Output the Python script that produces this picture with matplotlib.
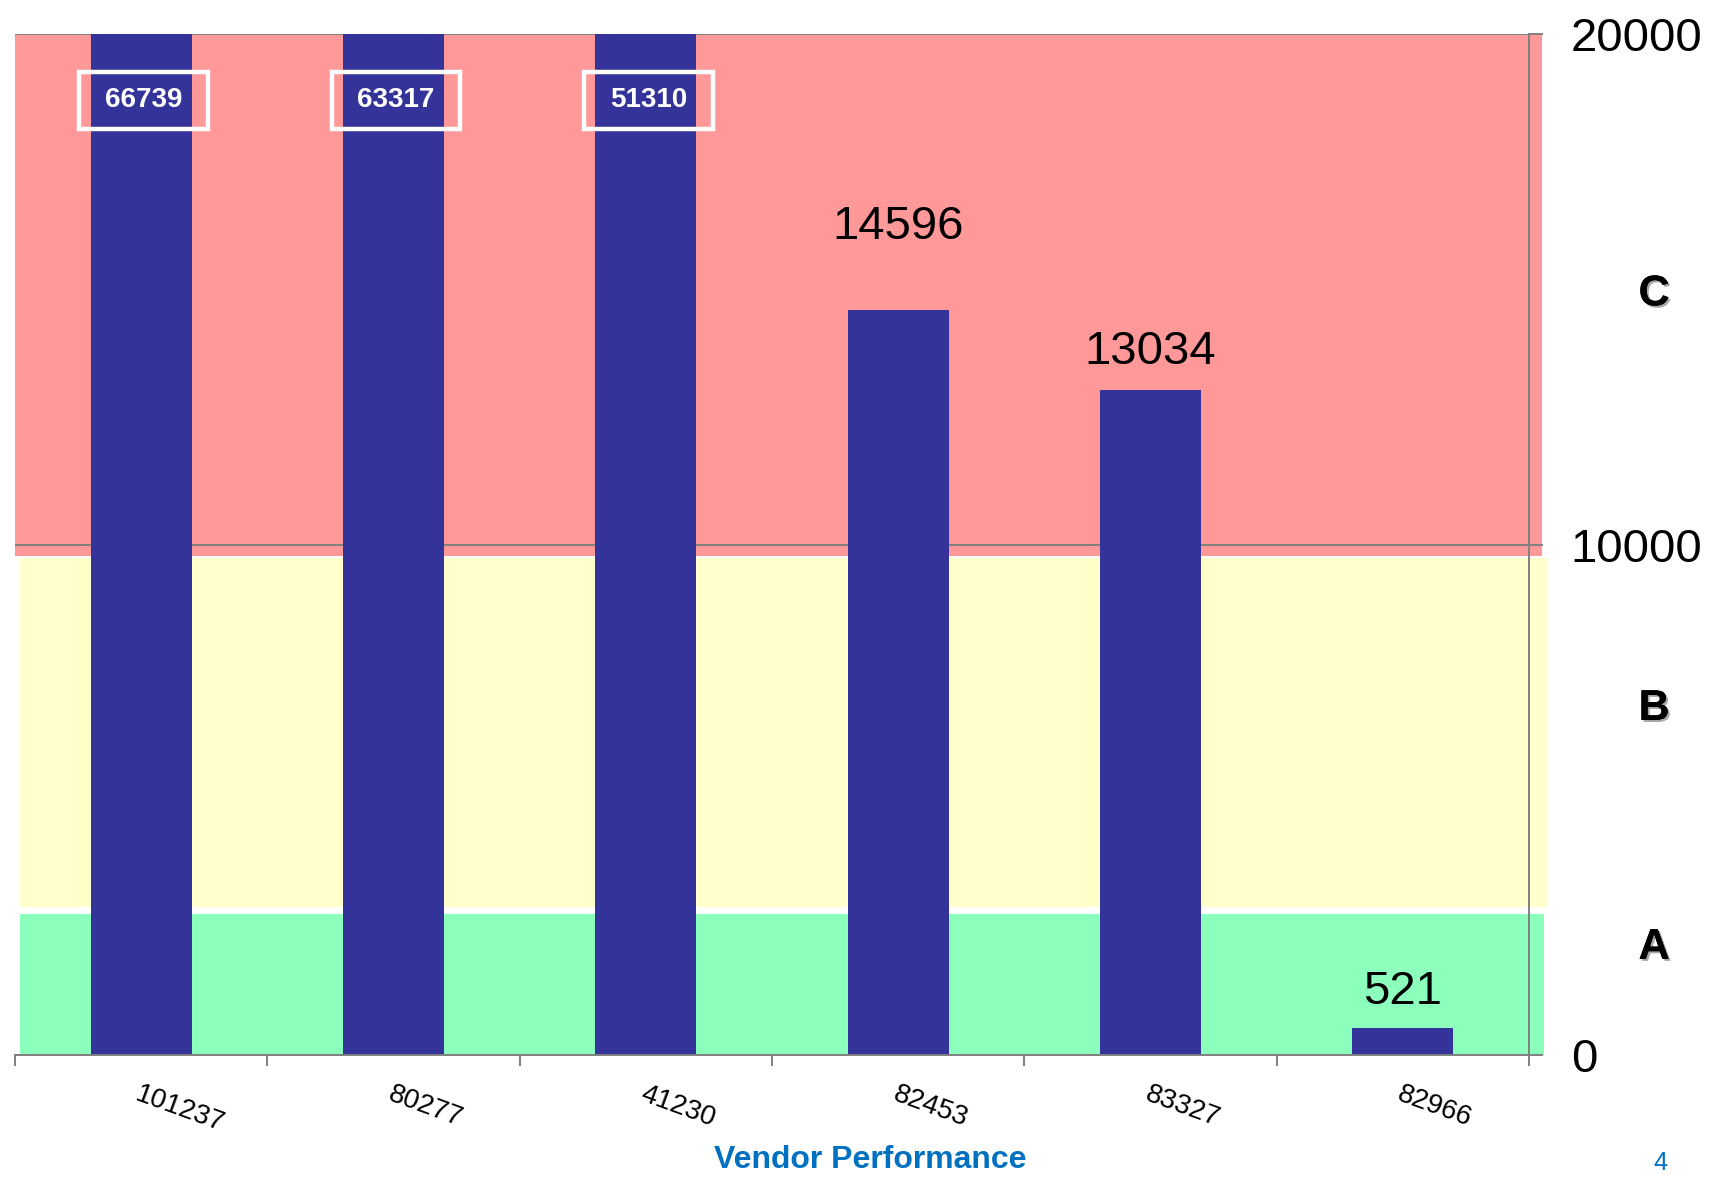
import numpy as np
import matplotlib
matplotlib.use("Agg")
import matplotlib.pyplot as plt
import matplotlib.patheffects as pe
from matplotlib.patches import Rectangle
from matplotlib.transforms import blended_transform_factory

plt.rcParams['font.family'] = ['Liberation Sans', 'DejaVu Sans']

# DATA
vendors = ['101237', '80277', '41230', '82453', '83327', '82966']
values = [66739, 63317, 51310, 14596, 13034, 521]
y_ticks = [0, 10000, 20000]

# zone bands (A, B, C)
band_letters = ['A', 'B', 'C']
band_low = [0, 2900, 9780]
band_high = [2760, 9730, 20000]
band_colors = ['#8CFFBC', '#FFFFCC', '#FF9999']
letter_y = [2100, 6780, 14900]

BAR = '#333399'
GRAY = '#808080'

fig = plt.figure(figsize=(17.29, 11.82), dpi=100)
ax = fig.add_axes([15 / 1729, 127 / 1182, 1514 / 1729, 1021 / 1182])

x = np.arange(len(vendors))
ax.set_xlim(-0.5, len(vendors) - 0.5)
ax.set_ylim(0, 20000)

# bands (slightly different extents, like hand-drawn shapes)
band_x = [(0.0033, 1.0099), (0.0033, 1.0119), (0.0, 1.0086)]
for lo, hi, c, (x0, x1) in zip(band_low, band_high, band_colors, band_x):
    ax.axhspan(lo, hi, xmin=x0, xmax=x1, color=c, zorder=0, clip_on=False, lw=0)

ax.bar(x, values, width=0.4, color=BAR, zorder=2)

# axes look
ax.spines['top'].set_visible(False)
ax.spines['left'].set_visible(False)
ax.spines['bottom'].set_color(GRAY)
ax.spines['right'].set_color(GRAY)
ax.spines['bottom'].set_linewidth(1.4)
ax.spines['right'].set_linewidth(1.4)

ax.set_axisbelow(True)
ax.yaxis.tick_right()
ax.set_yticks(y_ticks)
ax.set_yticklabels([str(v) for v in y_ticks])
ax.tick_params(axis='y', which='major', length=10, width=1.4, color=GRAY,
               labelsize=34, pad=20, direction='out')
ax.yaxis.grid(True, color=GRAY, linewidth=1.4)

ax.set_xticks(np.arange(-0.5, len(vendors), 1))
ax.set_xticklabels([])
ax.set_xticks(x, minor=True)
ax.set_xticklabels(vendors, minor=True)
ax.tick_params(axis='x', which='major', length=8, width=1.4, color=GRAY,
               direction='out')
ax.tick_params(axis='x', which='minor', length=0, labelsize=20, pad=19)
plt.setp(ax.get_xticklabels(minor=True), rotation=-20, ha='left',
         rotation_mode='anchor')

# value labels
ymax = ax.get_ylim()[1]
trans = blended_transform_factory(ax.transData, ax.transAxes)
offsets = [0, 0, 0, 60, 27, 26]
for xi, v, off in zip(x, values, offsets):
    if v > ymax:
        ax.text(xi + 0.01, 0.935, str(v), transform=trans, ha='center',
                va='center', color='white', fontsize=20, fontweight='bold',
                zorder=4)
        ax.add_patch(Rectangle((xi + 0.01 - 0.255, 0.935 - 0.028), 0.51, 0.056,
                               transform=trans, fill=False, edgecolor='white',
                               linewidth=3.2, zorder=4, clip_on=False))
    else:
        ax.annotate(str(v), (xi, v), xytext=(0, off), textcoords='offset points',
                    ha='center', va='center', fontsize=34, color='black',
                    zorder=4)

# zone letters
ltrans = blended_transform_factory(ax.transAxes, ax.transData)
for letter, ly in zip(band_letters, letter_y):
    ax.text(1.0826, ly, letter, transform=ltrans,
            ha='center', va='center', fontsize=31, fontweight='bold',
            path_effects=[pe.withSimplePatchShadow(offset=(1.5, -1.5),
                                                   alpha=0.35), pe.Normal()])

fig.text(870 / 1729, 1 - 1160 / 1182, 'Vendor Performance', ha='center',
         va='center', fontsize=23, fontweight='bold', color='#0070C0')
fig.text(1660 / 1729, 1 - 1163 / 1182, '4', ha='center', va='center',
         fontsize=18, color='#0070C0')

plt.savefig('out.png', dpi=100)
